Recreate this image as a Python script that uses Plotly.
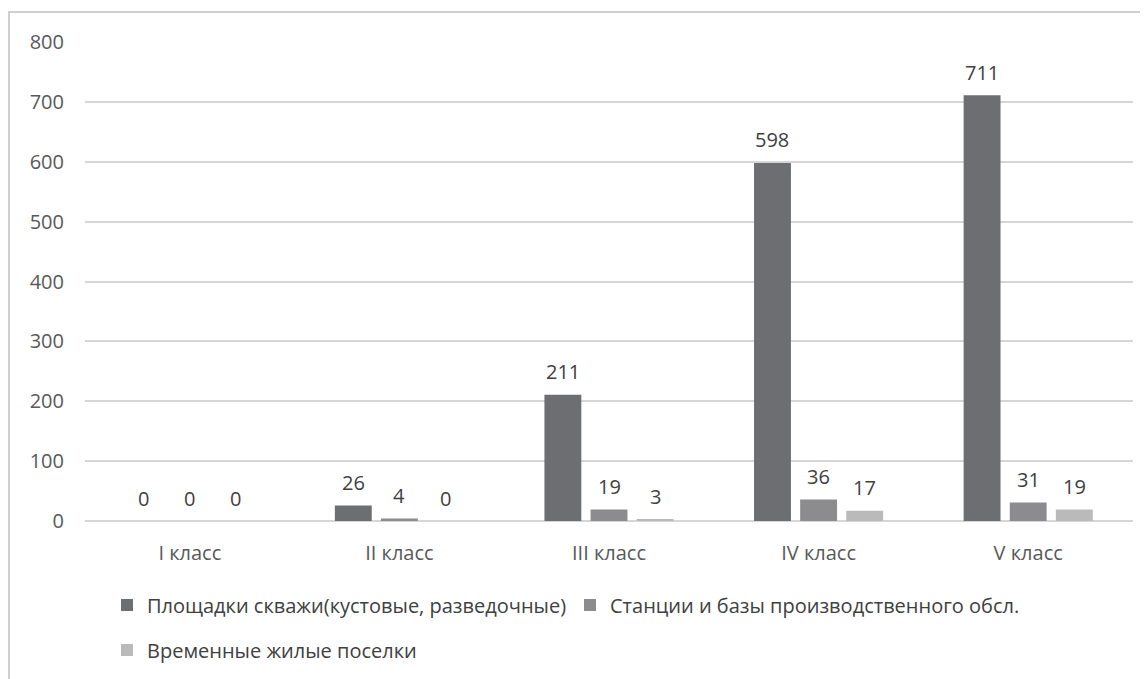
import plotly.graph_objects as go

categories = ["I класс", "II класс", "III класс", "IV класс", "V класс"]
series_names = [
    "Площадки скважи(кустовые, разведочные)",
    "Станции и базы производственного обсл.",
    "Временные жилые поселки",
]
wells = [0, 26, 211, 598, 711]
stations = [0, 4, 19, 36, 31]
camps = [0, 0, 3, 17, 19]
y_ticks = [0, 100, 200, 300, 400, 500, 600, 700, 800]

colors = ["#6d6e71", "#8c8c8e", "#bababb"]
FONT = "Open Sans"
OFF = 8  # page body margin
W, H = 1148, 679
L, T = 85 - OFF, 42 - OFF
PW, PH = 1048, 479
R = W - L - PW
B = H - T - PH
BARGAP, GROUPGAP = 0.34, 0.2

legend_ids = ["legend", "legend3", "legend2"]

fig = go.Figure()
all_vals = [wells, stations, camps]
for i, (name, vals) in enumerate(zip(series_names, all_vals)):
    fig.add_trace(go.Bar(
        x=categories, y=vals, name=name,
        marker=dict(color=colors[i], line=dict(width=0)),
        legend=legend_ids[i],
    ))

# data labels above bars
slot_px = (1 - BARGAP) * (PW / len(categories)) / len(series_names)
annotations = []
for i, vals in enumerate(all_vals):
    for c, v in zip(categories, vals):
        annotations.append(dict(
            x=c, y=v, xref="x", yref="y", text=str(v), showarrow=False,
            xshift=(i - 1) * slot_px, yshift=23, yanchor="middle",
            font=dict(family=FONT, size=20, color="#404040"),
        ))


def px_x(p):
    return (p - OFF - L) / PW


def px_y(p):
    return 1 - (p - OFF - T) / PH


def leg(x, y):
    return dict(orientation="h", x=px_x(x), y=px_y(y), yanchor="middle", xanchor="left",
                font=dict(family=FONT, size=20, color="#404040"),
                bgcolor="rgba(0,0,0,0)")


fig.update_layout(
    width=W, height=H,
    margin=dict(l=L, r=R, t=T, b=B),
    paper_bgcolor="white", plot_bgcolor="white",
    barmode="group", bargap=BARGAP, bargroupgap=GROUPGAP,
    font=dict(family=FONT, color="#595959", size=20),
    showlegend=True,
    annotations=annotations,
    legend=leg(107, 605),
    legend3=leg(570, 605),
    legend2=leg(107, 650),
    xaxis=dict(showgrid=False, showline=False, zeroline=False,
               tickfont=dict(family=FONT, size=20, color="#595959"),
               ticklabelstandoff=18),
    yaxis=dict(range=[0, 800], tickvals=y_ticks, showgrid=True, gridcolor="#d6d6d6", gridwidth=2,
               zeroline=True, zerolinecolor="#d6d6d6", zerolinewidth=2, showline=False,
               tickfont=dict(family=FONT, size=20, color="#595959"),
               ticklabelstandoff=20),
    shapes=[dict(type="rect", xref="paper", yref="paper",
                 x0=px_x(9), y0=px_y(720), x1=px_x(1200), y1=px_y(12),
                 line=dict(color="#d0d0d0", width=2), fillcolor="rgba(0,0,0,0)", layer="below")],
)

fig.write_html("out.html")
